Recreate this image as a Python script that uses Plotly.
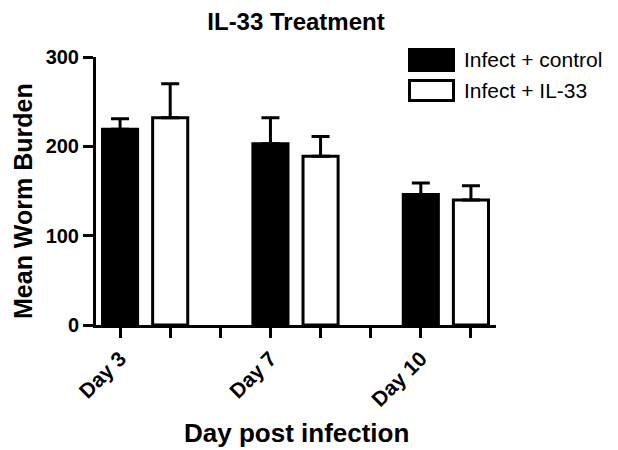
import plotly.graph_objects as go

# ---- data ----
days = ["Day 3", "Day 7", "Day 10"]
series_names = ["Infect + control", "Infect + IL-33"]
control_mean = [219, 203, 146]
control_sem = [12, 29, 13]
il33_mean = [232, 189, 140]
il33_sem = [38, 22, 16]
y_ticks = [0, 100, 200, 300]
chart_title = "IL-33 Treatment"
x_title = "Day post infection"
y_title = "Mean Worm Burden"

# ---- geometry (page pixels; the page body has an 8px margin) ----
OFF = 8
PAGE_W, PAGE_H = 618, 450
W, H = PAGE_W - OFF, PAGE_H - OFF
PL, PR, PT, PB = 96, 496, 57, 325  # plot area in page pixels
L, R, T, B = PL - OFF, W - (PR - OFF), PT - OFF, H - (PB - OFF)
pw = W - L - R
ph = H - T - B


def px_x(x):
    return (x - OFF - L) / pw


def px_y(y):
    return (H - B - (y - OFF)) / ph


FONT = "Liberation Sans, Arial, Helvetica, sans-serif"

slots = 3  # control, IL-33, blank column
ctrl_x = [i * slots for i in range(len(days))]
il33_x = [i * slots + 1 for i in range(len(days))]
tickvals = list(range(slots * len(days) - 1))
ticktext = [days[v // slots] if v % slots == 0 else "" for v in tickvals]

err_style = dict(type="data", symmetric=False, color="black", thickness=3, width=9)

fig = go.Figure()
fig.add_trace(go.Bar(
    x=ctrl_x, y=control_mean, width=0.7, name=series_names[0],
    marker=dict(color="black", line=dict(color="black", width=3)),
    error_y=dict(array=control_sem, arrayminus=[0] * len(days), **err_style),
))
fig.add_trace(go.Bar(
    x=il33_x, y=il33_mean, width=0.7, name=series_names[1],
    marker=dict(color="white", line=dict(color="black", width=3)),
    error_y=dict(array=il33_sem, arrayminus=[0] * len(days), **err_style),
))

# legend drawn manually (large swatches)
legend_rows = [(48, 72, "black"), (79, 102, "white")]
shapes = []
annotations = []
for (y0, y1, col), name in zip(legend_rows, series_names):
    shapes.append(dict(type="rect", xref="paper", yref="paper",
                       x0=px_x(409.5), x1=px_x(453.5), y0=px_y(y1 - 1.5), y1=px_y(y0 + 1.5),
                       fillcolor=col, line=dict(color="black", width=3)))
    annotations.append(dict(xref="paper", yref="paper", x=px_x(462), y=px_y((y0 + y1) / 2),
                            xanchor="left", yanchor="middle", showarrow=False, text=name,
                            font=dict(family=FONT, size=21, color="black")))

annotations.append(dict(xref="paper", yref="paper", x=px_x(23), y=px_y(201),
                        xanchor="center", yanchor="middle", showarrow=False, text=y_title,
                        textangle=-90,
                        font=dict(family=FONT, size=25, color="black", weight="bold")))
annotations.append(dict(xref="paper", yref="paper", x=0.5, y=px_y(433),
                        xanchor="center", yanchor="middle", showarrow=False, text=x_title,
                        font=dict(family=FONT, size=26, color="black", weight="bold")))

fig.update_layout(
    width=W, height=H,
    margin=dict(l=L, r=R, t=T, b=B),
    paper_bgcolor="white", plot_bgcolor="white",
    barmode="overlay", showlegend=False,
    title=dict(text=chart_title, x=0.5, xref="paper", xanchor="center",
               y=1 - (22 - OFF) / H, yref="container", yanchor="middle",
               font=dict(family=FONT, size=24, color="black", weight="bold")),
    xaxis=dict(range=[-0.48, 7.5], tickvals=tickvals, ticktext=ticktext, tickangle=-45,
               ticks="outside", ticklen=10, tickwidth=3, tickcolor="black",
               showline=True, linewidth=3, linecolor="black",
               showgrid=False, zeroline=False,
               tickfont=dict(family=FONT, size=21, color="black", weight="bold")),
    yaxis=dict(range=[0, 300], tickvals=y_ticks,
               ticks="outside", ticklen=10, tickwidth=3, tickcolor="black",
               showline=True, linewidth=3, linecolor="black",
               showgrid=False, zeroline=False,
               tickfont=dict(family=FONT, size=20, color="black", weight="bold")),
    shapes=shapes, annotations=annotations,
)

fig.write_html("out.html")
